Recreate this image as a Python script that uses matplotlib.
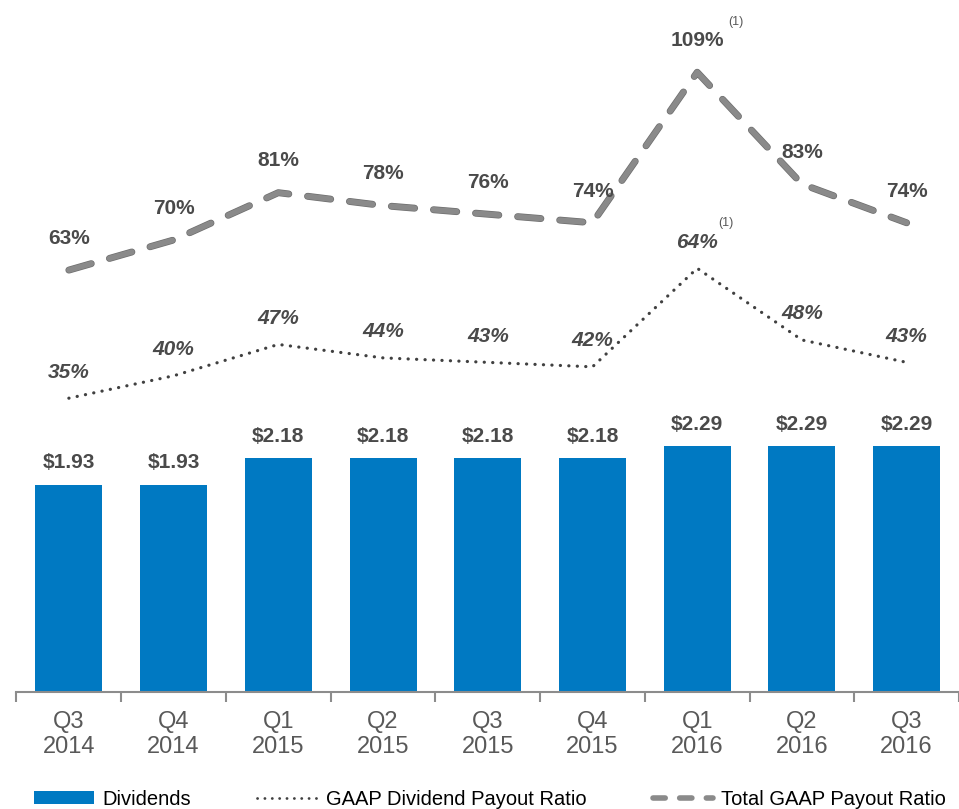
# dividends and payout ratios by quarter
import matplotlib as mpl
import matplotlib.pyplot as plt
from matplotlib.lines import Line2D
from matplotlib.patches import Patch
import matplotlib.patheffects as pe

mpl.rcParams['font.family'] = ['Liberation Sans', 'DejaVu Sans']

quarters = ['Q3\n2014', 'Q4\n2014', 'Q1\n2015', 'Q2\n2015', 'Q3\n2015',
            'Q4\n2015', 'Q1\n2016', 'Q2\n2016', 'Q3\n2016']
dividends = [1.93, 1.93, 2.18, 2.18, 2.18, 2.18, 2.29, 2.29, 2.29]
gaap_payout = [35, 40, 47, 44, 43, 42, 64, 48, 43]
total_payout = [63, 70, 81, 78, 76, 74, 109, 83, 74]
footnoted = [6]  # index with (1) note

blue = '#0079c2'
dark = '#4a4a4a'
x = list(range(len(quarters)))

fig = plt.figure(figsize=(9.59, 8.09), dpi=100, facecolor='white')
ax = fig.add_axes([0.0172, 0.1446, 0.9828, 0.8554])

# bars
ax.bar(x, dividends, width=0.64, color=blue, zorder=2)
ax.set_ylim(0, 6.449)
ax.set_xlim(-0.5, 8.5)
for i, v in enumerate(dividends):
    ax.annotate('$%.2f' % v, (i, v), xytext=(0, 9), textcoords='offset points',
                ha='center', va='bottom', fontsize=15, fontweight='bold', color=dark)

# axis formatting
for s in ['top', 'right', 'left']:
    ax.spines[s].set_visible(False)
ax.spines['bottom'].set_color('#8c8c8c')
ax.spines['bottom'].set_linewidth(1.5)
ax.set_yticks([])
ax.set_xticks(x)
ax.set_xticklabels(quarters, fontsize=17, color='#595959', linespacing=1.12)
ax.tick_params(axis='x', which='major', length=0, pad=14)
ax.set_xticks([i - 0.5 for i in range(len(quarters) + 1)], minor=True)
ax.tick_params(axis='x', which='minor', length=7, width=1.5, color='#8c8c8c')

# dotted GAAP dividend payout ratio
ax2 = ax.twinx()
ax2.set_ylim(-30.6, 123.9)
ax2.axis('off')
ax2.plot(x, gaap_payout, color='#404040', lw=2.3, linestyle=(0, (0.05, 2.6)),
         dash_capstyle='round', zorder=3)
for i, v in enumerate(gaap_payout):
    ax2.annotate('%d%%' % v, (i, v), xytext=(0, 12), textcoords='offset points',
                 ha='center', va='bottom', fontsize=15, fontweight='bold',
                 fontstyle='italic', color=dark)
    if i in footnoted:
        ax2.annotate('(1)', (i, v), xytext=(21, 28), textcoords='offset points',
                     ha='center', va='bottom', fontsize=9, color='#595959')

# dashed total GAAP payout ratio
ax3 = ax.twinx()
ax3.set_ylim(-35.1, 125.8)
ax3.axis('off')
ax3.plot(x, total_payout, color='#8a8a8a', lw=4, dashes=(4.2, 3.4),
         dash_capstyle='round',
         path_effects=[pe.Stroke(linewidth=5, foreground='#6e6e6e'), pe.Normal()],
         zorder=3)
for i, v in enumerate(total_payout):
    ax3.annotate('%d%%' % v, (i, v), xytext=(0, 16), textcoords='offset points',
                 ha='center', va='bottom', fontsize=15, fontweight='bold', color=dark)
    if i in footnoted:
        ax3.annotate('(1)', (i, v), xytext=(28, 32), textcoords='offset points',
                     ha='center', va='bottom', fontsize=9, color='#595959')

# legend
handles = [Patch(facecolor=blue),
           Line2D([], [], color='#404040', lw=2, linestyle=(0, (0.05, 2.6)),
                  dash_capstyle='round'),
           Line2D([], [], color='#8a8a8a', lw=4, dashes=(2.2, 2.6),
                  dash_capstyle='round')]
labels = ['Dividends', 'GAAP Dividend Payout Ratio', 'Total GAAP Payout Ratio']
fig.legend(handles, labels, loc='lower center', bbox_to_anchor=(0.511, -0.022),
           ncol=3, frameon=False, fontsize=14.5, handlelength=3.0,
           handleheight=0.6, columnspacing=3.3, handletextpad=0.4)

plt.savefig('out.png', dpi=100)
